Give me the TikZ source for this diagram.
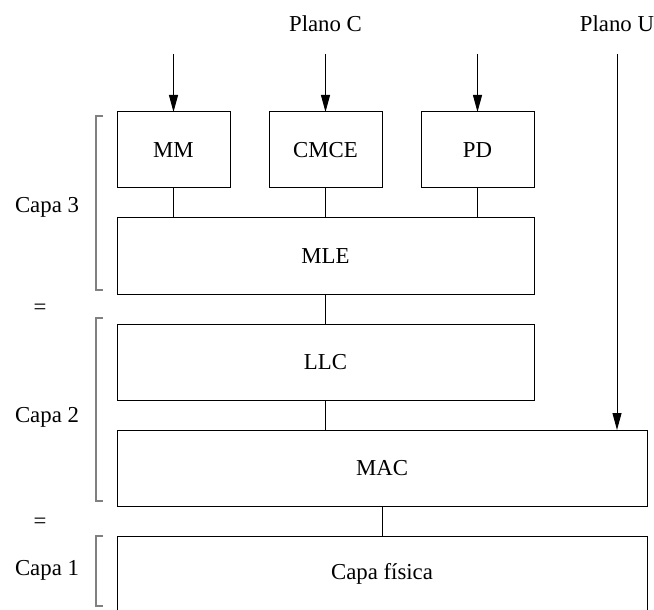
\documentclass[tikz,border=0pt]{standalone}
\usepackage{fontspec}
\setmainfont{Liberation Serif}
\usetikzlibrary{arrows.meta,positioning,calc}

\begin{document}
\begin{tikzpicture}[
  x=1pt, y=1pt,
  node distance = 15pt and 0pt,
  box/.style   = {draw, line width=0.5pt, minimum height=38pt,
                  inner sep=0pt, outer sep=0pt, align=center,
                  font=\fontsize{11.4}{13}\selectfont},
  sbox/.style  = {box, minimum width=56.5pt},
  mbox/.style  = {box, minimum width=208.5pt},
  wbox/.style  = {box, minimum width=265pt},
  arr/.style   = {-{Triangle[length=8.5pt,width=4.5pt]}, line width=0.5pt},
  lnk/.style   = {line width=0.5pt},
  brk/.style   = {draw=gray, line width=0.65pt},
  lbl/.style   = {inner sep=0pt, font=\fontsize{11.4}{13}\selectfont},
]
\useasboundingbox (0,0) rectangle (327,-305);
% layer boxes
\node[mbox, anchor=north west]             (mle)  at (58.5,-109) {MLE};
\node[sbox, above right=of mle.north west] (mm)   {MM};
\node[sbox, above=of mle.north]            (cmce) {CMCE};
\node[sbox, above left=of mle.north east]  (pd)   {PD};
\node[mbox, below right=of mle.south west] (llc)  {LLC};
\node[wbox, below right=of llc.south west] (mac)  {MAC};
\node[wbox, below right=of mac.south west] (fis)  {Capa física};
% planes
\coordinate[above=29pt of mm.north]   (inmm);
\coordinate[above=29pt of cmce.north] (incmce);
\coordinate[above=29pt of pd.north]   (inpd);
\coordinate (inu)  at ($(inpd -| mac.north east)+(-15pt,0)$);
\coordinate (outu) at (inu |- mac.north);
\node[lbl, above=11pt of incmce] (planoc) {Plano C};
\node[lbl, above=11pt of inu]    (planou) {Plano U};
\draw[arr] (inmm)   -- (mm);
\draw[arr] (incmce) -- (cmce);
\draw[arr] (inpd)   -- (pd);
\draw[arr] (inu)    -- (outu);
% links between boxes
\draw[lnk] (mm)   -- (mm |- mle.north);
\draw[lnk] (cmce) -- (mle);
\draw[lnk] (pd)   -- (pd |- mle.north);
\draw[lnk] (mle)  -- (llc);
\draw[lnk] (llc)  -- (llc |- mac.north);
\draw[lnk] (mac)  -- (fis);
% brackets
\coordinate (b3t) at (48,-58);  \coordinate (b3b) at (48,-145);
\coordinate (b2t) at (48,-159); \coordinate (b2b) at (48,-250.5);
\coordinate (b1t) at (48,-268); \coordinate (b1b) at (48,-303);
\foreach \b in {3,2,1}
  \draw[brk] ($(b\b t)+(3.5,0)$) -- (b\b t) -- (b\b b) -- ++(3.5,0);
\node[lbl] (capa3) at (23.5,-103.5) {Capa 3};
\node[lbl] (capa2) at (23.5,-208.5) {Capa 2};
\node[lbl] (capa1) at (23.5,-285)   {Capa 1};
\node[lbl] (eq32)  at (20,-154.5)   {=};
\node[lbl] (eq21)  at (20,-261.5)   {=};
\end{tikzpicture}
\end{document}
